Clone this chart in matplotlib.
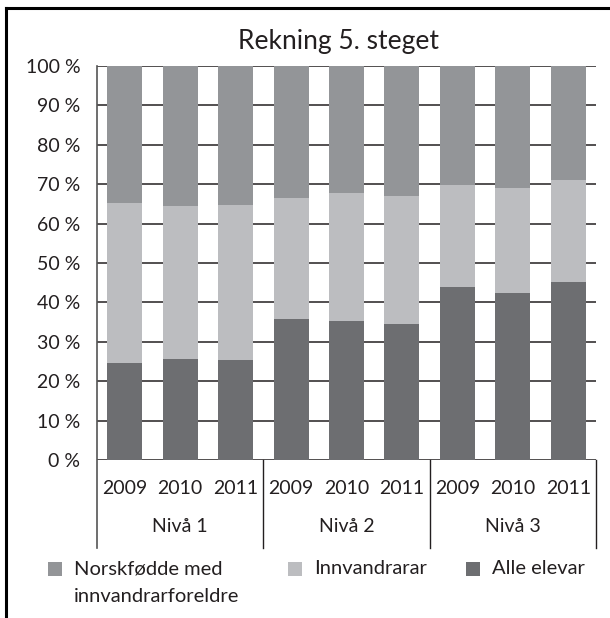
import matplotlib
matplotlib.use("Agg")
import matplotlib.pyplot as plt
from matplotlib.lines import Line2D
from matplotlib.patches import Rectangle
import matplotlib.transforms as mtransforms

plt.rcParams['font.family'] = ['Lato', 'DejaVu Sans']

title = "Rekning 5. steget"
years = ["2009", "2010", "2011", "2009", "2010", "2011", "2009", "2010", "2011"]
levels = ["Nivå 1", "Nivå 2", "Nivå 3"]
alle_elevar = [24.6, 25.6, 25.4, 35.7, 35.2, 34.6, 43.9, 42.5, 45.3]
innvandrarar = [40.7, 38.8, 39.2, 30.9, 32.6, 32.3, 25.8, 26.5, 25.7]
norskfodde = [34.7, 35.6, 35.4, 33.4, 32.2, 33.1, 30.3, 31.0, 29.0]
yticks = [0, 10, 20, 30, 40, 50, 60, 70, 80, 90, 100]
ytick_labels = [f"{v} %" for v in yticks]
legend_labels = ["Norskfødde med\ninnvandrarforeldre", "Innvandrarar", "Alle elevar"]

c_dark = "#6d6e71"
c_light = "#bcbdc0"
c_mid = "#939598"
c_text = "#231f20"

W, H = 610, 618
fig = plt.figure(figsize=(W / 100, H / 100), dpi=100)
left, right, top, bottom = 97, 596, 66, 460
ax = fig.add_axes([left / W, 1 - bottom / H, (right - left) / W, (bottom - top) / H])

x = list(range(len(years)))
bw = 0.63
ax.bar(x, alle_elevar, bw, color=c_dark, zorder=3)
bot2 = alle_elevar
ax.bar(x, innvandrarar, bw, bottom=bot2, color=c_light, zorder=3)
bot3 = [a + b for a, b in zip(alle_elevar, innvandrarar)]
ax.bar(x, norskfodde, bw, bottom=bot3, color=c_mid, zorder=3)

ax.set_xlim(-0.5, len(years) - 0.5)
ax.set_ylim(0, 100)
ax.set_yticks(yticks)
ax.set_yticklabels(ytick_labels, fontsize=14, color=c_text)
ax.tick_params(axis='y', length=0, pad=12)
ax.set_xticks([])
for s in ax.spines.values():
    s.set_visible(False)
for v in yticks:
    ax.axhline(v, color=c_text, lw=1.1, zorder=1)

# separators / left axis extending below
trans = mtransforms.blended_transform_factory(ax.transData, ax.transAxes)
ph = bottom - top
ybot = -(548 - bottom) / ph
ax.add_line(Line2D([-0.5, -0.5], [ybot, 1], transform=trans, color="#555555", lw=1.2, clip_on=False))
for xs in [2.5, 5.5, 8.5]:
    ax.add_line(Line2D([xs, xs], [ybot, 0], transform=trans, color=c_text, lw=1.0, clip_on=False))

# year labels and level labels
yyear = -(489 - bottom) / ph
ylev = -(527 - bottom) / ph
for i, yr in enumerate(years):
    ax.text(i, yyear, yr, transform=trans, ha='center', va='center', fontsize=14, color=c_text)
for g, lv in enumerate(levels):
    ax.text(g * 3 + 1, ylev, lv, transform=trans, ha='center', va='center', fontsize=14, color=c_text)

fig.text(338 / W, 1 - 42 / H, title, ha='center', va='center', fontsize=19, color=c_text)

# legend (drawn manually)
leg_colors = [c_mid, c_light, c_dark]
sq_x = [48, 288, 466]
row1_y = 569
row_gap = 28
sq = 14
for xx, col, lab in zip(sq_x, leg_colors, legend_labels):
    fig.add_artist(Rectangle((xx / W, 1 - (row1_y + sq / 2) / H), sq / W, sq / H,
                             transform=fig.transFigure, facecolor=col, edgecolor='none'))
    for k, line in enumerate(lab.split("\n")):
        fig.text((xx + sq + 12) / W, 1 - (row1_y + k * row_gap) / H, line, ha='left', va='center',
                 fontsize=14.5, color=c_text)

# outer frame (partially cropped)
fig.add_artist(Line2D([6 / W, 1.0], [1 - 8 / H, 1 - 8 / H], transform=fig.transFigure, color='black', lw=2.2))
fig.add_artist(Line2D([6 / W, 6 / W], [0, 1 - 8 / H], transform=fig.transFigure, color='black', lw=2.2))

fig.savefig("out.png", dpi=100)
